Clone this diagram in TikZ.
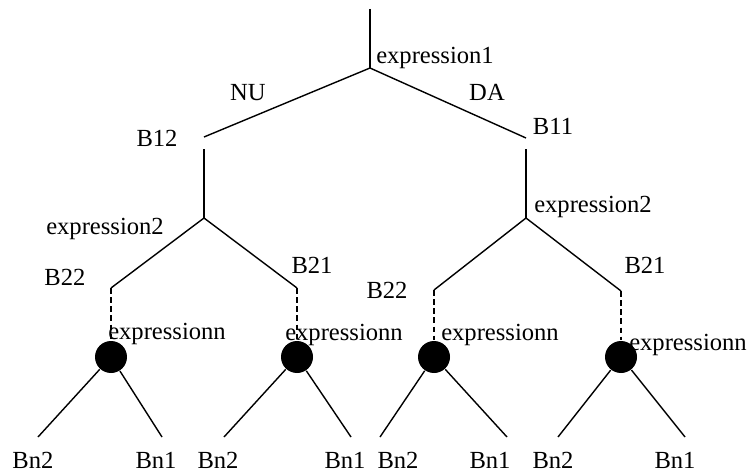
\documentclass[tikz,border=0pt]{standalone}
\usepackage{fontspec}
\setmainfont{Liberation Serif}
\begin{document}
\begin{tikzpicture}[x=0.02cm,y=-0.02cm,line width=0.8pt,
  dot/.style={circle,fill,inner sep=0pt,minimum size=0.64cm},
  lbl/.style={inner sep=0pt,font=\fontsize{14}{16}\selectfont},
  dots/.style={dash pattern=on 3.2pt off 2pt}]
\useasboundingbox (0,0) rectangle (753,473);
% first test
\coordinate (top) at (370,9);
\coordinate (e1) at (370,68);
\coordinate (b12) at (204,137);
\coordinate (b11) at (526,138);
\draw (top)--(e1);
\draw (e1)--(b12);
\draw (e1)--(b11);
\node[lbl] (ex1) at (435,58) {expression1};
\node[lbl] (nu) at (248,93) {NU};
\node[lbl] (da) at (487,92) {DA};
\node[lbl] (lb12) at (157,138) {B12};
\node[lbl] (lb11) at (553,126) {B11};
% second test
\coordinate (s1) at (204,149);
\coordinate (e2l) at (204,218);
\coordinate (s2) at (526,149);
\coordinate (e2r) at (526,218);
\draw (s1)--(e2l);
\draw (s2)--(e2r);
\coordinate (a1) at (111,288);
\coordinate (a2) at (297,288);
\coordinate (a3) at (434,290);
\coordinate (a4) at (621,291);
\draw (e2l)--(a1);
\draw (e2l)--(a2);
\draw (e2r)--(a3);
\draw (e2r)--(a4);
\node[lbl] (ex2l) at (105,229) {expression2};
\node[lbl] (ex2r) at (593,207) {expression2};
\node[lbl] (lb22l) at (65,277) {B22};
\node[lbl] (lb21l) at (312,265) {B21};
\node[lbl] (lb22r) at (387,290) {B22};
\node[lbl] (lb21r) at (645,265) {B21};
% last test
\node[dot] (c1) at (111,357) {};
\node[dot] (c2) at (297,357) {};
\node[dot] (c3) at (434,357) {};
\node[dot] (c4) at (621,357) {};
\draw[dots] (a1)--(c1);
\draw[dots] (a2)--(c2);
\draw[dots] (a3)--(c3);
\draw[dots] (a4)--(c4);
\node[lbl] (exn1) at (167,334) {expressionn};
\node[lbl] (exn2) at (344,335) {expressionn};
\node[lbl] (exn3) at (500,335) {expressionn};
\node[lbl] (exn4) at (688,345) {expressionn};
% leaves
\coordinate (l1a) at (38,437);
\coordinate (l1b) at (162,437);
\coordinate (l2a) at (224,437);
\coordinate (l2b) at (351,437);
\coordinate (l3a) at (380,437);
\coordinate (l3b) at (507,437);
\coordinate (l4a) at (558,437);
\coordinate (l4b) at (685,437);
\draw (c1)--(l1a);
\draw (c1)--(l1b);
\draw (c2)--(l2a);
\draw (c2)--(l2b);
\draw (c3)--(l3a);
\draw (c3)--(l3b);
\draw (c4)--(l4a);
\draw (c4)--(l4b);
\node[lbl] (n1a) at (33,460) {Bn2};
\node[lbl] (n1b) at (156,460) {Bn1};
\node[lbl] (n2a) at (218,460) {Bn2};
\node[lbl] (n2b) at (345,460) {Bn1};
\node[lbl] (n3a) at (398,460) {Bn2};
\node[lbl] (n3b) at (490,460) {Bn1};
\node[lbl] (n4a) at (553,460) {Bn2};
\node[lbl] (n4b) at (675,460) {Bn1};
\end{tikzpicture}
\end{document}
